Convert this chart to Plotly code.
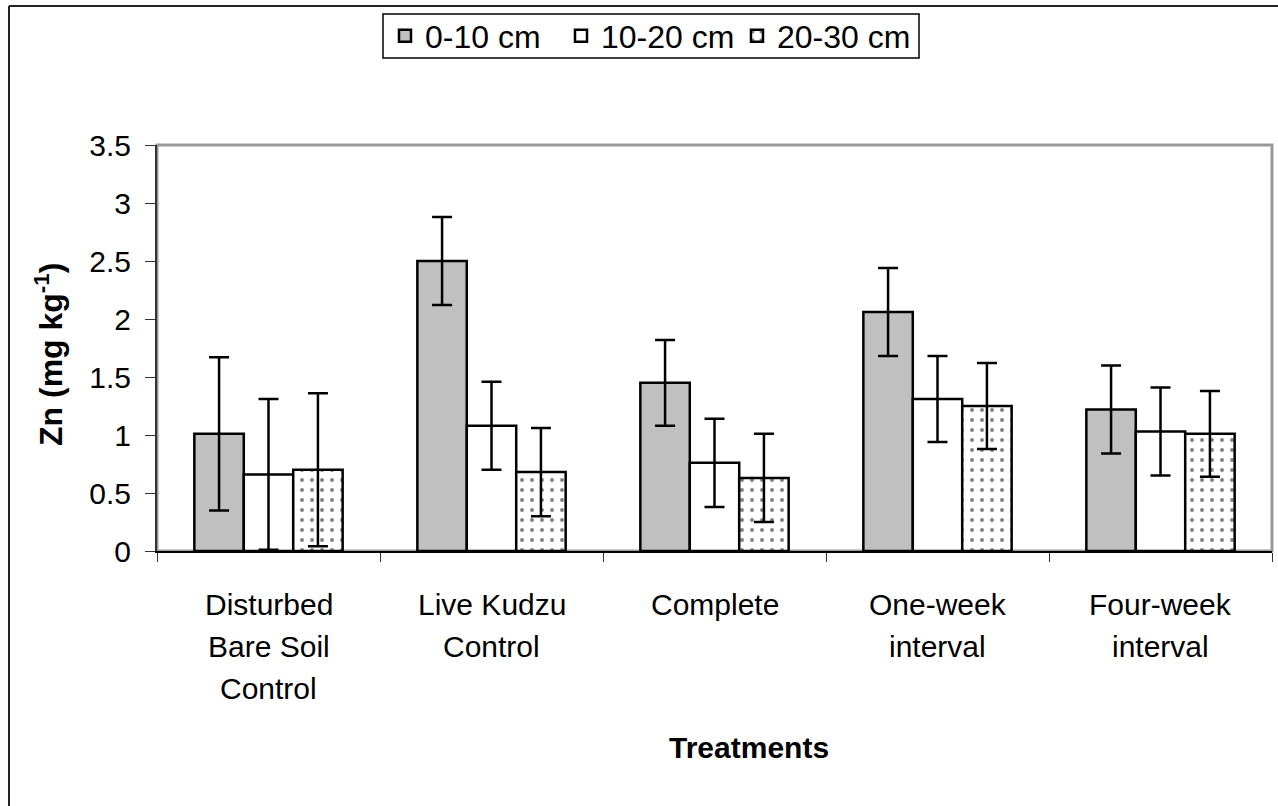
import plotly.graph_objects as go

# Treatments on the x axis and the label lines drawn under each group
treatments = ["Disturbed Bare Soil Control", "Live Kudzu Control", "Complete",
              "One-week interval", "Four-week interval"]
treatment_lines = [["Disturbed", "Bare Soil", "Control"],
                   ["Live Kudzu", "Control"],
                   ["Complete"],
                   ["One-week", "interval"],
                   ["Four-week", "interval"]]

# Zn concentration (mg kg-1) by soil depth, with error bar half-lengths
zn_0_10 = [1.01, 2.50, 1.45, 2.06, 1.22]
err_0_10 = [0.66, 0.38, 0.37, 0.38, 0.38]
zn_10_20 = [0.66, 1.08, 0.76, 1.31, 1.03]
err_10_20 = [0.65, 0.38, 0.38, 0.37, 0.38]
zn_20_30 = [0.70, 0.68, 0.63, 1.25, 1.01]
err_20_30 = [0.66, 0.38, 0.38, 0.37, 0.37]

y_ticks = [0, 0.5, 1, 1.5, 2, 2.5, 3, 3.5]
y_tick_text = ["0", "0.5", "1", "1.5", "2", "2.5", "3", "3.5"]

W, H = 1278, 806
ML, MR, MT, MB = 157, 6, 145, 255
PW, PH = W - ML - MR, H - MT - MB
FONT = "Liberation Sans, Arial, sans-serif"
FS = 30


def px_x(px):
    return (px - ML) / PW


def px_y(py):
    return (H - MB - py) / PH


def err(vals):
    return dict(type="data", array=vals, visible=True, color="black",
                thickness=2.5, width=10)


bar_line = dict(color="black", width=2.5)

fig = go.Figure()
fig.add_trace(go.Bar(name="0-10 cm", x=treatments, y=zn_0_10, error_y=err(err_0_10),
                     marker=dict(color="#c0c0c0", line=bar_line)))
fig.add_trace(go.Bar(name="10-20 cm", x=treatments, y=zn_10_20, error_y=err(err_10_20),
                     marker=dict(color="white", line=bar_line)))
fig.add_trace(go.Bar(name="20-30 cm", x=treatments, y=zn_20_30, error_y=err(err_20_30),
                     marker=dict(color="white", line=bar_line,
                                 pattern=dict(shape=".", size=10, solidity=0.12,
                                              fgcolor="black", bgcolor="white",
                                              fillmode="overlay"))))

annotations = []
for cat, lines in zip(treatments, treatment_lines):
    for i, txt in enumerate(lines):
        annotations.append(dict(x=cat, y=0, xref="x", yref="y", text=txt,
                                showarrow=False, xanchor="center", yanchor="middle",
                                yshift=-53 - 42 * i,
                                font=dict(family=FONT, size=FS, color="black")))

annotations.append(dict(x=px_x(749), y=px_y(747), xref="paper", yref="paper",
                        text="<b>Treatments</b>", showarrow=False,
                        xanchor="center", yanchor="middle",
                        font=dict(family=FONT, size=FS, color="black")))
annotations.append(dict(x=px_x(49), y=px_y(355), xref="paper", yref="paper",
                        text="<b>Zn (mg kg<sup>-1</sup>)</b>", showarrow=False,
                        textangle=-90, xanchor="center", yanchor="middle",
                        font=dict(family=FONT, size=32, color="black")))

shapes = [
    # plot area frame (top and right edges)
    dict(type="rect", xref="paper", yref="paper", x0=0, y0=0, x1=1, y1=1,
         line=dict(color="#999999", width=3), layer="below"),
    # outer chart border
    dict(type="line", xref="paper", yref="paper", x0=px_x(9), y0=px_y(6),
         x1=px_x(1300), y1=px_y(6), line=dict(color="#222222", width=2)),
    dict(type="line", xref="paper", yref="paper", x0=px_x(9), y0=px_y(6),
         x1=px_x(9), y1=px_y(830), line=dict(color="#222222", width=2)),
    # frame around the legend row
    dict(type="rect", xref="paper", yref="paper", x0=px_x(383), y0=px_y(14),
         x1=px_x(919), y1=px_y(58), line=dict(color="black", width=1.5),
         fillcolor="white", layer="below"),
]

fig.update_layout(
    width=W, height=H,
    margin=dict(l=ML, r=MR, t=MT, b=MB, pad=0),
    paper_bgcolor="white", plot_bgcolor="white",
    barmode="group", bargap=0.335, bargroupgap=0,
    font=dict(family=FONT, size=FS, color="black"),
    showlegend=True,
    legend=dict(orientation="h", x=px_x(385), y=px_y(36), xanchor="left",
                yanchor="middle", borderwidth=0, bgcolor="rgba(0,0,0,0)",
                font=dict(family=FONT, size=32, color="black"),
                itemwidth=30, tracegroupgap=0, traceorder="normal",
                entrywidthmode="pixels", entrywidth=131),
    annotations=annotations,
    shapes=shapes,
)

fig.update_xaxes(type="category", showticklabels=False, tickson="boundaries",
                 ticks="outside", ticklen=9, tickwidth=1, tickcolor="#333333",
                 showline=True, linecolor="black", linewidth=2,
                 showgrid=False, zeroline=False)
fig.update_yaxes(range=[0, 3.5], tickvals=y_ticks, ticktext=y_tick_text,
                 ticks="outside", ticklen=10, tickwidth=1, tickcolor="#333333",
                 ticklabelstandoff=8,
                 tickfont=dict(family=FONT, size=FS, color="black"),
                 showline=True, linecolor="#333333", linewidth=2,
                 showgrid=False, zeroline=False)

fig.write_html("out.html")
